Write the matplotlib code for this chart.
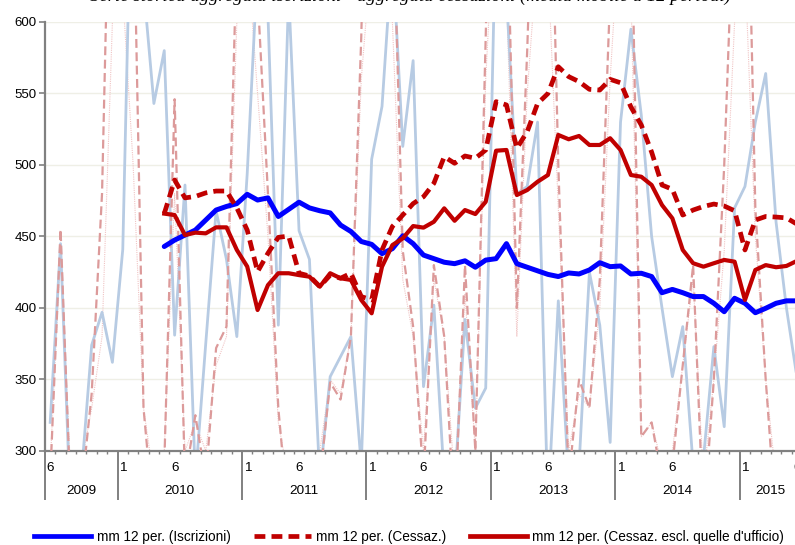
import numpy as np
import matplotlib
matplotlib.use('Agg')
import matplotlib.pyplot as plt
from matplotlib.lines import Line2D
from matplotlib.transforms import blended_transform_factory

plt.rcParams['font.family'] = ['Liberation Sans', 'DejaVu Sans']

# ---------------- data (monthly, Jun 2009 .. Jun 2015) ----------------
n_months = 73
first_month = 6          # June
years = ['2009', '2010', '2011', '2012', '2013', '2014', '2015']
nan = np.nan

iscr_mm12 = [nan] * 11 + [
    443, 447.5, 451, 454.5, 461.5, 468.5, 471, 473, 479.5, 475.5, 477, 464, 469,
    474, 470, 468, 466.5, 458, 453.5, 446.5, 444.5, 438, 441.5, 450.5, 445,
    437, 434.5, 432, 431, 433, 428.5, 433.5, 434.5, 445, 431, 428.5, 426, 423.5,
    422, 424.5, 423.8, 426.6, 431.7, 428.9, 429.4, 423.8, 424.3, 422, 410.7,
    413, 410.7, 408, 408, 403.3, 397.4, 406.8, 403.3, 396.7, 399.8, 403.3, 405, 405]

cess_mm12 = [nan] * 11 + [
    466, 489.5, 477, 478, 480.5, 481.8, 481.8, 470, 454.5, 425.4, 438.3, 449.4, 450.3,
    424.3, 422.4, 415, 423, 420.8, 424.3, 408, 405.6, 440.6, 457, 465, 473,
    477.8, 487.2, 505.8, 501.2, 506.3, 504.7, 510.5, 544.3, 542, 511.7, 523.3, 543, 550,
    568.7, 561.8, 558.3, 552.9, 552.4, 559.9, 557.5, 540.6, 528, 509, 486,
    483, 465, 468.5, 471, 472.7, 471.3, 468, 440.6, 461.5, 464, 463.6, 463, 458.7]

cess_escl_mm12 = [nan] * 11 + [
    466, 465, 451, 452.7, 452.2, 456.4, 456.4, 440.6, 429, 398.6, 416, 424.3, 424.3,
    423, 421.9, 414.9, 424.3, 420.8, 419.6, 405.6, 396.3, 428.9, 444, 448.7, 457.3,
    456.2, 460.3, 469.7, 461, 468.5, 465.7, 474.3, 510, 510.5, 479, 482.5, 488.3, 493,
    521, 518, 520.3, 514, 514, 518.7, 510.5, 493, 491.8, 486, 472,
    462.7, 440.6, 431.3, 428.9, 431.3, 433.6, 432.4, 405.6, 426.6, 430, 428.5, 429.4, 432.9]

iscr = [320, 445, 250, 282, 374, 397, 362, 441, 760, 625, 543, 580, 381,
        486, 280, 375, 468, 434, 380, 494, 640, 605, 388, 620, 454,
        434, 280, 352, 366, 380, 290, 504, 541, 650, 513, 573, 345,
        402, 280, 275, 392, 330, 344, 680, 620, 480, 485, 530, 260,
        405, 280, 290, 425, 388, 306, 530, 595, 535, 450, 400, 352,
        387, 290, 295, 373, 317, 470, 485, 530, 564, 460, 400, 352]

cess = [280, 455, 260, 270, 340, 480, 800, 900, 700, 330, 250, 290, 546,
        280, 325, 280, 372, 387, 650, 900, 620, 480, 330, 250, 280,
        270, 280, 348, 336, 380, 590, 900, 900, 700, 440, 387, 280,
        430, 380, 250, 430, 300, 590, 900, 700, 400, 580, 800, 800,
        500, 280, 350, 330, 420, 620, 900, 700, 310, 320, 280, 290,
        360, 430, 250, 350, 500, 700, 800, 470, 350, 250, 280, 300]

cess_escl = [290, 440, 280, 290, 330, 380, 600, 620, 500, 330, 280, 300, 480,
             300, 320, 300, 360, 380, 600, 650, 550, 450, 320, 280, 300,
             290, 300, 350, 340, 380, 560, 650, 620, 600, 420, 380, 300,
             420, 380, 280, 410, 300, 560, 700, 620, 380, 550, 650, 640,
             470, 300, 340, 330, 400, 560, 680, 620, 310, 320, 290, 300,
             360, 420, 280, 350, 440, 600, 640, 450, 350, 280, 290, 300]

legend_labels = ['mm 12 per. (Iscrizioni)', 'mm 12 per. (Cessaz.)',
                 "mm 12 per. (Cessaz. escl. quelle d'ufficio)"]
title_text = 'Serie storica aggregata iscrizioni - aggregata cessazioni (media mobile a 12 periodi)'

# ---------------- figure ----------------
W, H = 795, 545
fig = plt.figure(figsize=(W / 100, H / 100), dpi=100)
ax = fig.add_axes([45 / W, (H - 451) / H, (802 - 45) / W, (451 - 22) / H])

x = np.arange(n_months) + 0.5
ax.set_xlim(0, n_months)
ax.set_ylim(300, 600)

light_blue = '#b7cbe3'
light_red = '#dc9a9a'
faint_red = '#f0c4c4'
dark_red = '#c00000'

ax.plot(x, cess_escl, color=faint_red, lw=0.8, ls=(0, (1, 1)), zorder=2)
ax.plot(x, iscr, color=light_blue, lw=2.0, zorder=2)
ax.plot(x, cess, color=light_red, lw=1.6, ls=(0, (4, 2)), zorder=3)

ax.plot(x, iscr_mm12, color='#0000ff', lw=3.6, zorder=5, solid_capstyle='round')
ax.plot(x, cess_mm12, color=dark_red, lw=3.4, ls=(0, (2.3, 1.3)), zorder=5)
ax.plot(x, cess_escl_mm12, color=dark_red, lw=3.0, zorder=5)

# grid / spines
ax.set_yticks(np.arange(300, 601, 50))
ax.yaxis.grid(True, color='#efefe6', lw=1.0, zorder=0)
for s in ['top', 'right']:
    ax.spines[s].set_visible(False)
for s in ['left', 'bottom']:
    ax.spines[s].set_color('#808080')
    ax.spines[s].set_linewidth(1.6)
ax.tick_params(axis='y', length=4, width=1.2, color='#808080', labelsize=9.5,
               pad=2, labelcolor='black')

# x ticks: month minor ticks, year major ticks
month_nums = [(first_month - 1 + i) % 12 + 1 for i in range(n_months)]
year_starts = [0] + [i for i in range(n_months) if month_nums[i] == 1]
ax.set_xticks(year_starts)
ax.set_xticklabels([])
ax.set_xticks(np.arange(0, n_months + 1), minor=True)
ax.tick_params(axis='x', which='major', length=35.5, width=1.4, color='#808080')
ax.tick_params(axis='x', which='minor', length=2.5, width=1.0, color='#808080')

trans = blended_transform_factory(ax.transData, fig.transFigure)
for i, m in enumerate(month_nums):
    if m in (1, 6):
        ax.text(i + 0.15, 1 - 468 / H, str(m), transform=trans, ha='left',
                va='center', fontsize=9.7, clip_on=False)
year_edges = year_starts + [n_months]
for k, yr in enumerate(years):
    cx = (year_edges[k] + year_edges[k + 1]) / 2
    ax.text(cx, 1 - 491 / H, yr, transform=trans, ha='center', va='center',
            fontsize=9.7, clip_on=False)

# title (cut off at the top in the reference: only the lower part shows)
fig.text(410 / W, 1 - 1 / H, title_text, ha='center', va='baseline', fontsize=13.5,
         family=['Liberation Serif'], style='italic')

# legend
handles = [Line2D([], [], color='#0000ff', lw=3.4),
           Line2D([], [], color=dark_red, lw=3.4, ls=(0, (2.3, 1.3))),
           Line2D([], [], color=dark_red, lw=3.4)]
fig.legend(handles, legend_labels, loc='center', ncol=3,
           bbox_to_anchor=(409 / W, 1 - 537 / H), frameon=False, fontsize=9.8,
           handlelength=4.2, handletextpad=0.4, columnspacing=1.7)

fig.savefig('out.png', dpi=100)
